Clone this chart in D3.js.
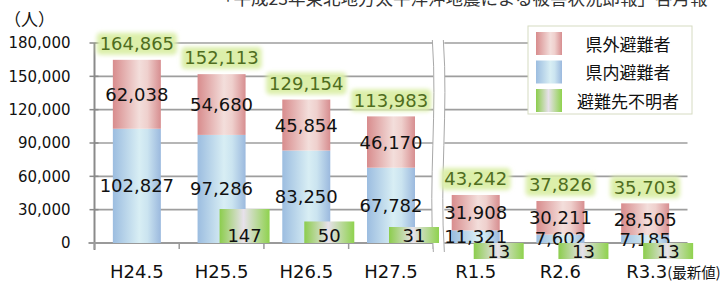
<!DOCTYPE html>
<html>
<head>
<meta charset="utf-8">
<script src="https://cdn.jsdelivr.net/npm/d3@7"></script>
<style>
  body { margin: 0; background: #fff; }
  svg { display: block; }
</style>
</head>
<body>
<div id="chart"></div>
<script>
(function() {
  var categories = ["H24.5", "H25.5", "H26.5", "H27.5", "R1.5", "R2.6", "R3.3"];
  var latestNote = "(最新値)";
  var inPref = [102827, 97286, 83250, 67782, 11321, 7602, 7185];
  var outPref = [62038, 54680, 45854, 46170, 31908, 30211, 28505];
  var unknown = [0, 147, 50, 31, 13, 13, 13];
  var totals = [164865, 152113, 129154, 113983, 43242, 37826, 35703];
  var yTicks = [0, 30000, 60000, 90000, 120000, 150000, 180000];
  var legendLabels = ["県外避難者", "県内避難者", "避難先不明者"];
  var unitLabel = "（人）";
  var sourceText = "「平成23年東北地方太平洋沖地震による被害状況即報」各月報";

  var W = 727, H = 282;
  var jp = "'Noto Sans CJK JP', sans-serif";
  var num = "'DejaVu Sans', sans-serif";
  var fmt = d3.format(",");
  var breakAfter = 3;

  var svg = d3.select("#chart").append("svg").attr("width", W).attr("height", H);
  var defs = svg.append("defs");

  var grad = function(id, stops) {
    var g = defs.append("linearGradient").attr("id", id).attr("x1", "0").attr("x2", "1").attr("y1", "0").attr("y2", "0");
    stops.forEach(function(s) {
      g.append("stop").attr("offset", s[0]).attr("stop-color", s[1]);
    });
  };
  grad("gPink", [[0, "#d88c8d"], [0.55, "#f3dedb"], [0.72, "#efd0cd"], [1, "#d78e90"]]);
  grad("gBlue", [[0, "#9cbde0"], [0.55, "#d8eef4"], [0.72, "#cbe4f0"], [1, "#9bb9de"]]);
  grad("gGreen", [[0, "#8ccd4d"], [0.48, "#e7e1eb"], [1, "#8fd24e"]]);

  defs.append("filter").attr("id", "glow").attr("x", "-30%").attr("y", "-50%").attr("width", "160%").attr("height", "200%")
    .append("feGaussianBlur").attr("stdDeviation", 2.2);

  var x = d3.scaleBand().domain(categories).range([94.5, 687.5]).padding(0);
  var y = d3.scaleLinear().domain([0, 180000]).range([243, 43]);
  var barW = 48;
  var greenH = d3.scaleLog().domain([31, 147]).range([16, 34]).clamp(true);

  var bx = function(i) { return x(categories[i]) + (x.bandwidth() - barW) / 2; };
  var cx = function(i) { return x(categories[i]) + x.bandwidth() / 2; };
  var breakX = x(categories[breakAfter + 1]);
  var leftX0 = x.range()[0], rightX1 = x.range()[1];

  // source line (cut off by the top edge)
  svg.append("text").attr("x", 216).attr("y", 5).attr("font-family", jp).attr("font-size", 17.5)
    .attr("fill", "#333").text(sourceText);

  // unit
  svg.append("text").attr("x", 4).attr("y", 26).attr("font-family", jp).attr("font-size", 17)
    .attr("fill", "#111").text(unitLabel);

  // gridlines, two segments either side of the break
  var grid = svg.append("g").attr("stroke", "#9e9e9e").attr("stroke-width", 1.6);
  yTicks.forEach(function(t) {
    if (t === 0) return;
    grid.append("line").attr("x1", leftX0).attr("x2", breakX).attr("y1", y(t)).attr("y2", y(t));
    grid.append("line").attr("x1", breakX + 11).attr("x2", rightX1).attr("y1", y(t)).attr("y2", y(t));
  });

  // y axis
  var yAxis = svg.append("g").attr("transform", "translate(" + leftX0 + ",0)")
    .call(d3.axisLeft(y).tickValues(yTicks).tickSize(0).tickPadding(24).tickFormat(fmt));
  yAxis.select(".domain").remove();
  yAxis.selectAll("text").attr("font-family", num).attr("font-size", 15).attr("fill", "#111");
  svg.append("line").attr("x1", leftX0).attr("x2", leftX0).attr("y1", y(180000)).attr("y2", 250)
    .attr("stroke", "#8a8a8a").attr("stroke-width", 2);
  yTicks.forEach(function(t) {
    svg.append("line").attr("x1", leftX0 - 5).attr("x2", leftX0 + 4).attr("y1", y(t)).attr("y2", y(t))
      .attr("stroke", "#8a8a8a").attr("stroke-width", 1.5);
  });

  // baseline + ticks
  svg.append("line").attr("x1", leftX0 - 6).attr("x2", breakX).attr("y1", y(0)).attr("y2", y(0))
    .attr("stroke", "#9a9a9a").attr("stroke-width", 2);
  svg.append("line").attr("x1", breakX + 11).attr("x2", rightX1).attr("y1", y(0)).attr("y2", y(0))
    .attr("stroke", "#9a9a9a").attr("stroke-width", 2);
  categories.forEach(function(c) {
    var tx = x(c);
    svg.append("line").attr("x1", tx).attr("x2", tx).attr("y1", y(0)).attr("y2", y(0) + 6)
      .attr("stroke", "#9a9a9a").attr("stroke-width", 1.5);
  });

  // break marks
  var brk = svg.append("g");
  brk.append("path")
    .attr("d", "M" + (breakX - 1) + ",40 C" + (breakX + 4) + ",110 " + (breakX - 5) + ",180 " + (breakX) + ",252 L" + (breakX + 11) + ",252 C" + (breakX + 6) + ",180 " + (breakX + 15) + ",110 " + (breakX + 10) + ",40 Z")
    .attr("fill", "#fff").attr("stroke", "none");
  [0, 11].forEach(function(o) {
    brk.append("path")
      .attr("d", "M" + (breakX - 1 + o) + ",40 C" + (breakX + 4 + o) + ",110 " + (breakX - 5 + o) + ",180 " + (breakX + o) + ",252")
      .attr("fill", "none").attr("stroke", "#a8a8a8").attr("stroke-width", 1);
  });

  // stacked bars
  var bars = svg.append("g");
  categories.forEach(function(c, i) {
    bars.append("rect").attr("x", bx(i)).attr("width", barW)
      .attr("y", y(inPref[i])).attr("height", y(0) - y(inPref[i])).attr("fill", "url(#gBlue)");
    bars.append("rect").attr("x", bx(i)).attr("width", barW)
      .attr("y", y(inPref[i] + outPref[i])).attr("height", y(inPref[i]) - y(inPref[i] + outPref[i])).attr("fill", "url(#gPink)");
  });

  // segment labels
  var lab = svg.append("g").attr("font-family", num).attr("font-size", 18).attr("fill", "#111")
    .attr("text-anchor", "middle").attr("dominant-baseline", "central");
  categories.forEach(function(c, i) {
    lab.append("text").attr("x", cx(i)).attr("y", (y(0) + y(inPref[i])) / 2).text(fmt(inPref[i]));
    lab.append("text").attr("x", cx(i)).attr("y", (y(inPref[i]) + y(inPref[i] + outPref[i])) / 2).text(fmt(outPref[i]));
  });

  // unknown-destination boxes
  var gb = svg.append("g");
  categories.forEach(function(c, i) {
    if (!unknown[i]) return;
    var h = greenH(unknown[i]);
    var top = i > breakAfter ? y(0) : y(0) - h;
    var gx = cx(i) + 23 - 25;
    gb.append("rect").attr("x", gx).attr("y", top).attr("width", 50).attr("height", h).attr("fill", "url(#gGreen)");
    gb.append("text").attr("x", gx + 25).attr("y", top + h - 8).attr("font-family", num).attr("font-size", 18)
      .attr("fill", "#111").attr("text-anchor", "middle").attr("dominant-baseline", "central").text(fmt(unknown[i]));
  });

  // totals with glow
  var tg = svg.append("g");
  categories.forEach(function(c, i) {
    var ty = y(totals[i]) - 16;
    var s = fmt(totals[i]);
    var w = s.length * 10.6 + 6;
    tg.append("rect").attr("x", cx(i) - w / 2).attr("y", ty - 11).attr("width", w).attr("height", 22)
      .attr("rx", 4).attr("fill", "#dcefaa").attr("filter", "url(#glow)");
    tg.append("text").attr("x", cx(i)).attr("y", ty).attr("font-family", num).attr("font-size", 18)
      .attr("fill", "#4f6d1e").attr("text-anchor", "middle").attr("dominant-baseline", "central").text(s);
  });

  // category labels
  var cl = svg.append("g").attr("font-size", 18).attr("fill", "#111");
  categories.forEach(function(c, i) {
    var t = cl.append("text").attr("y", 278).attr("font-family", num);
    if (i === categories.length - 1) {
      t.attr("x", cx(i) - 19).attr("text-anchor", "start").text(c);
      t.append("tspan").attr("font-family", jp).attr("font-size", 14.5).text(latestNote);
    } else {
      t.attr("x", cx(i)).attr("text-anchor", "middle").text(c);
    }
  });

  // legend
  var lg = svg.append("g").attr("transform", "translate(528,26)");
  lg.append("rect").attr("width", 164).attr("height", 88).attr("fill", "#fff").attr("stroke", "#d6dbc2").attr("stroke-width", 1);
  var swatches = ["url(#gPink)", "url(#gBlue)", "url(#gGreen)"];
  legendLabels.forEach(function(l, i) {
    var row = lg.append("g").attr("transform", "translate(0," + (17 + i * 28.5) + ")");
    row.append("rect").attr("x", 8).attr("y", -11).attr("width", 26).attr("height", 23).attr("fill", swatches[i]);
    row.append("text").attr("x", 100).attr("y", 0).attr("font-family", jp).attr("font-size", 17)
      .attr("fill", "#111").attr("text-anchor", "middle").attr("dominant-baseline", "central").text(l);
  });
})();
</script>
</body>
</html>
